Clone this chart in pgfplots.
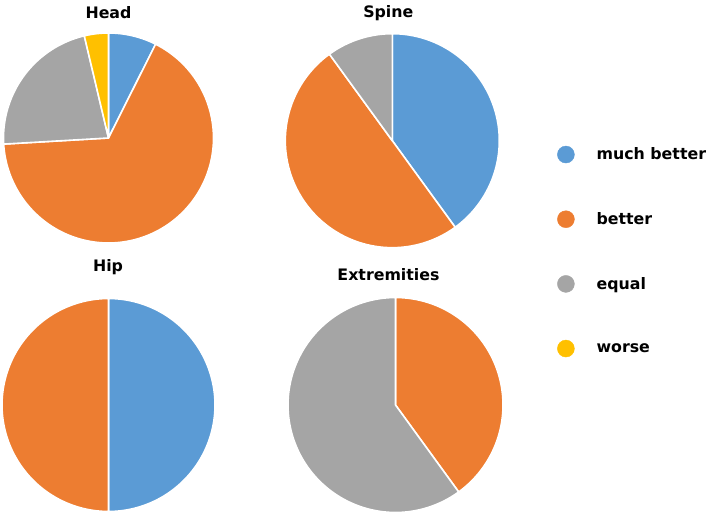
\documentclass[border=0pt]{standalone}
\usepackage{pgfplots}
\usepackage{pgfplotstable}
\pgfplotsset{compat=1.18}
\usepackage{fontspec}
\setmainfont{DejaVu Sans}
\definecolor{cA}{HTML}{5B9BD5}
\definecolor{cB}{HTML}{ED7D31}
\definecolor{cC}{HTML}{A5A5A5}
\definecolor{cD}{HTML}{FFC000}
\colorlet{pie0}{cA}
\colorlet{pie1}{cB}
\colorlet{pie2}{cC}
\colorlet{pie3}{cD}

% category: 0 much better, 1 better, 2 equal, 3 worse
\pgfplotstableread{
cat value
0 2
1 18
2 6
3 1
}\headdata
\pgfplotstableread{
cat value
0 4
1 5
2 1
3 0
}\spinedata
\pgfplotstableread{
cat value
0 1
1 1
2 0
3 0
}\hipdata
\pgfplotstableread{
cat value
0 0
1 2
2 3
3 0
}\extrdata

\newcommand\buildpie[1]{%
  \gdef\pietot{0}%
  \pgfplotstableforeachcolumnelement{value}\of#1\as\cell{%
    \pgfmathsetmacro\tmp{\pietot+\cell}\xdef\pietot{\tmp}}%
  \gdef\piecum{0}%
  \gdef\piecmds{}%
  \pgfplotstableforeachcolumnelement{value}\of#1\as\cell{%
    \pgfmathsetmacro\tmpb{90-360*\piecum/\pietot}%
    \pgfmathsetmacro\tmpc{\piecum+\cell}%
    \pgfmathsetmacro\tmpa{90-360*\tmpc/\pietot}%
    \xdef\piecum{\tmpc}%
    \pgfmathtruncatemacro\nz{\cell>0}%
    \ifnum\nz=1
      \xdef\piecmds{\unexpanded\expandafter{\piecmds}\noexpand\addplot[fill=pie\pgfplotstablerow, draw=white, line width=1.6bp, line join=round, domain=\tmpa:\tmpb, samples=120] ({cos(x)},{sin(x)}) -- (axis cs:0,0) -- cycle;}%
    \fi
  }%
}

\pgfplotsset{pieaxis/.style={hide axis, scale only axis, xmin=-1, xmax=1, ymin=-1, ymax=1, clip=false, anchor=center}}
\newcommand\titlefont{\fontsize{15.8bp}{19bp}\selectfont\bfseries}

\begin{document}
\begin{tikzpicture}
\path[use as bounding box] (0,0) rectangle (709bp,517bp);

\buildpie{\headdata}
\begin{axis}[pieaxis, width=210bp, height=210bp, at={(108.5bp,379bp)}]
\piecmds
\end{axis}

\buildpie{\spinedata}
\begin{axis}[pieaxis, width=214bp, height=214bp, at={(392.3bp,376.3bp)}]
\piecmds
\end{axis}

\buildpie{\hipdata}
\begin{axis}[pieaxis, width=213bp, height=213bp, at={(108.5bp,112bp)}]
\piecmds
\end{axis}

\buildpie{\extrdata}
\begin{axis}[pieaxis, width=215bp, height=215bp, at={(395.5bp,112bp)}]
\piecmds
\end{axis}

\node[anchor=base, font=\titlefont, inner sep=0pt] at (108.5bp,498.5bp) {Head};
\node[anchor=base, font=\titlefont, inner sep=0pt] at (388.3bp,499bp) {Spine};
\node[anchor=base, font=\titlefont, inner sep=0pt] at (108bp,245.3bp) {Hip};
\node[anchor=base, font=\titlefont, inner sep=0pt] at (388.5bp,236bp) {Extremities};

\begin{axis}[hide axis, scale only axis, width=5bp, height=5bp, xmin=0, xmax=1, ymin=0, ymax=1,
  anchor=north west, at={(557.2bp,371.2bp)},
  legend image code/.code={\fill[#1] (8.5bp,0bp) circle (8.5bp);},
  legend style={at={(0,1)}, anchor=north west, draw=none, fill=none, inner sep=0pt, outer sep=0pt,
    row sep=47.2bp, column sep=20bp, font=\titlefont, legend cell align=left}]
\addlegendimage{color=cA}
\addlegendentry{much better}
\addlegendimage{color=cB}
\addlegendentry{better}
\addlegendimage{color=cC}
\addlegendentry{equal}
\addlegendimage{color=cD}
\addlegendentry{worse}
\end{axis}
\end{tikzpicture}
\end{document}
